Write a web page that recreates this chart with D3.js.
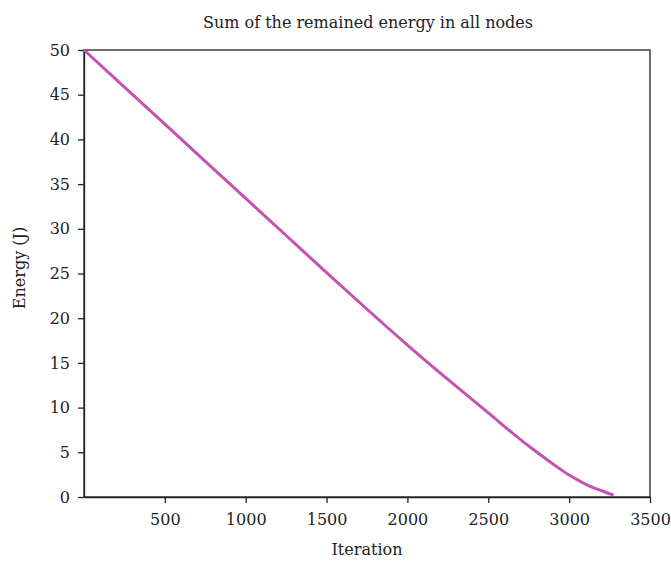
<!DOCTYPE html>
<html>
<head>
<meta charset="utf-8">
<script src="https://cdn.jsdelivr.net/npm/d3@7"></script>
<style>
  body { margin: 0; background: #fff; }
  text { font-family: "DejaVu Serif", "Liberation Serif", serif; }
</style>
</head>
<body>
<div id="chart"></div>
<script>
// values
var iterations = [0, 250, 500, 750, 1000, 1250, 1500, 1750, 2000, 2250, 2500, 2750, 2900, 3000, 3100, 3200, 3275];
var energy     = [50, 45.85, 41.7, 37.55, 33.4, 29.25, 25.1, 21.0, 17.0, 13.15, 9.4, 5.7, 3.7, 2.45, 1.45, 0.7, 0.2];
var xTicks = [500, 1000, 1500, 2000, 2500, 3000, 3500];
var yTicks = [0, 5, 10, 15, 20, 25, 30, 35, 40, 45, 50];

var data = iterations.map(function(d, i) { return {x: d, y: energy[i]}; });

var fontFam = "'DejaVu Serif', 'Liberation Serif', serif";

// set the dimensions and margins of the graph
var margin = {top: 50, right: 21, bottom: 66, left: 84},
    width = 671 - margin.left - margin.right,
    height = 563 - margin.top - margin.bottom;

var svg = d3.select("#chart")
  .append("svg")
    .attr("width", 671)
    .attr("height", 563);

var g = svg.append("g")
    .attr("transform", "translate(" + margin.left + "," + margin.top + ")");

var x = d3.scaleLinear().domain([0, 3500]).range([0, width]);
var y = d3.scaleLinear().domain([0, 50]).range([height, 0]);

// frame
g.append("rect")
    .attr("width", width)
    .attr("height", height)
    .attr("fill", "none")
    .attr("stroke", "#222")
    .attr("stroke-width", 1.3);

// X axis
var xAxis = g.append("g")
    .attr("transform", "translate(0," + height + ")")
    .call(d3.axisBottom(x).tickValues(xTicks).tickFormat(d3.format("d"))
        .tickSize(6).tickPadding(11).tickSizeOuter(0));

// Y axis
var yAxis = g.append("g")
    .call(d3.axisLeft(y).tickValues(yTicks).tickFormat(d3.format("d"))
        .tickSize(6).tickPadding(8).tickSizeOuter(0));

[xAxis, yAxis].forEach(function(a) {
  a.attr("font-size", 16).attr("font-family", fontFam);
  a.selectAll("text").attr("fill", "#222");
  a.selectAll("line").attr("stroke", "#222").attr("stroke-width", 1.3);
  a.select(".domain").attr("stroke", "#222").attr("stroke-width", 1.3);
});

// the line
var line = d3.line()
    .x(function(d) { return x(d.x); })
    .y(function(d) { return y(d.y); })
    .curve(d3.curveMonotoneX);

g.append("path")
    .datum(data)
    .attr("fill", "none")
    .attr("stroke", "#c452b5")
    .attr("stroke-width", 3)
    .attr("d", line);

// title and axis labels
svg.append("text")
    .attr("x", 368).attr("y", 28)
    .attr("text-anchor", "middle")
    .attr("font-size", 16).attr("fill", "#222")
    .text("Sum of the remained energy in all nodes");

svg.append("text")
    .attr("x", 367).attr("y", 555)
    .attr("text-anchor", "middle")
    .attr("font-size", 16).attr("fill", "#222")
    .text("Iteration");

svg.append("text")
    .attr("transform", "translate(25,268) rotate(-90)")
    .attr("text-anchor", "middle")
    .attr("font-size", 16).attr("fill", "#222")
    .text("Energy (J)");
</script>
</body>
</html>
